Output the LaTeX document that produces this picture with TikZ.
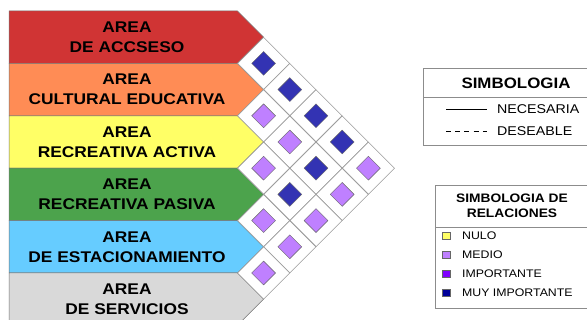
\documentclass[tikz,border=0pt]{standalone}
\usepackage{fontspec}
\setmainfont{Liberation Sans}[FakeStretch=1.12]
\usepackage{tikz}
\usetikzlibrary{shapes.geometric,positioning}
\definecolor{myred}{RGB}{208,52,52}
\definecolor{myorange}{RGB}{255,140,85}
\definecolor{myyellow}{RGB}{255,255,102}
\definecolor{mygreen}{RGB}{76,163,76}
\definecolor{mysky}{RGB}{102,204,255}
\definecolor{mygray}{RGB}{217,217,217}
\definecolor{mydark}{RGB}{51,51,179}
\definecolor{mylight}{RGB}{191,128,255}
\definecolor{mypurple}{RGB}{128,0,255}
\definecolor{mynavy}{RGB}{0,0,153}

\begin{document}
\begin{tikzpicture}[x=1pt,y=-1pt,
  band/.style={draw=black!55,line width=0.5pt},
  bandtext/.style={align=center,inner sep=0pt,
    font=\fontsize{15.5}{20}\selectfont\bfseries},
  cell/.style={diamond,draw=black!40,fill=white,line width=0.6pt,
    minimum width=52.4pt,minimum height=52.4pt,inner sep=0pt},
  relbox/.style={diamond,draw=black!60,line width=0.4pt,
    minimum width=24pt,minimum height=24pt,inner sep=0pt},
  legbox/.style={draw=black!45,line width=0.6pt},
  legtitle/.style={align=center,inner sep=0pt,font=\bfseries},
  legtext/.style={anchor=west,inner sep=0pt},
  legkey/.style={draw=black!60,line width=0.4pt,minimum width=8pt,
    minimum height=7pt,inner sep=0pt}]
  \useasboundingbox (0,0) rectangle (587,320);

  % areas
  \foreach \i/\col/\lineb in {1/myred/DE ACCSESO,
      2/myorange/CULTURAL EDUCATIVA,
      3/myyellow/RECREATIVA ACTIVA,
      4/mygreen/RECREATIVA PASIVA,
      5/mysky/DE ESTACIONAMIENTO,
      6/mygray/DE SERVICIOS}
  {
    \pgfmathsetmacro{\ytop}{11+(\i-1)*52.4}
    \filldraw[band,fill=\col] (9,\ytop) -- (237.4,\ytop)
      -- (263.6,\ytop+26.2) -- (237.4,\ytop+52.4) -- (9,\ytop+52.4) -- cycle;
    \node[bandtext] (area\i) at (127,\ytop+26.2) {AREA\\\lineb};
  }

  % matriz de relaciones
  \foreach \i/\j/\col in {1/2/mydark,1/3/mydark,1/4/mydark,1/5/mydark,
      1/6/mylight,2/3/mylight,2/4/mylight,2/5/mydark,2/6/mylight,
      3/4/mylight,3/5/mydark,3/6/mylight,4/5/mylight,4/6/mylight,
      5/6/mylight}
  {
    \pgfmathsetmacro{\cx}{263.6+(\j-\i-1)*26.2}
    \pgfmathsetmacro{\cy}{11+((\i+\j)/2-0.5)*52.4}
    \node[cell] (c\i\j) at (\cx,\cy) {};
    \node[relbox,fill=\col] (r\i\j) at (c\i\j.center) {};
  }

  % simbologia
  \draw[legbox] (423,68) rectangle (600,145);
  \draw[legbox] (423,97) -- (600,97);
  \node[legtitle,font=\fontsize{15.1}{18}\selectfont\bfseries] (simb) at (516,83) {SIMBOLOGIA};
  \coordinate (necA) at (446,109);
  \coordinate (necB) at (487,109);
  \coordinate (desA) at (446,131);
  \coordinate (desB) at (487,131);
  \draw[line width=0.8pt] (necA) -- (necB);
  \draw[line width=0.9pt,dash pattern=on 5pt off 4.2pt] (desA) -- (desB);
  \node[legtext,font=\fontsize{12.7}{14}\selectfont] (nec) at (497,109) {NECESARIA};
  \node[legtext,font=\fontsize{12.7}{14}\selectfont] (des) at (497,131) {DESEABLE};

  % simbologia de relaciones
  \draw[legbox] (435,185) rectangle (600,308);
  \draw[legbox] (435,227) -- (600,227);
  \node[legtitle,font=\fontsize{12.3}{15}\selectfont\bfseries] (simbrel) at (512,206)
    {SIMBOLOGIA DE\\RELACIONES};
  \foreach \k/\col/\txt in {0/myyellow/NULO,1/mylight/MEDIO,
      2/mypurple/IMPORTANTE,3/mynavy/MUY IMPORTANTE}
  {
    \node[legkey,fill=\col] (key\k) at (446,236+\k*19) {};
    \node[legtext,font=\fontsize{11}{12}\selectfont] (lbl\k) at (462,236+\k*19) {\txt};
  }
\end{tikzpicture}
\end{document}
